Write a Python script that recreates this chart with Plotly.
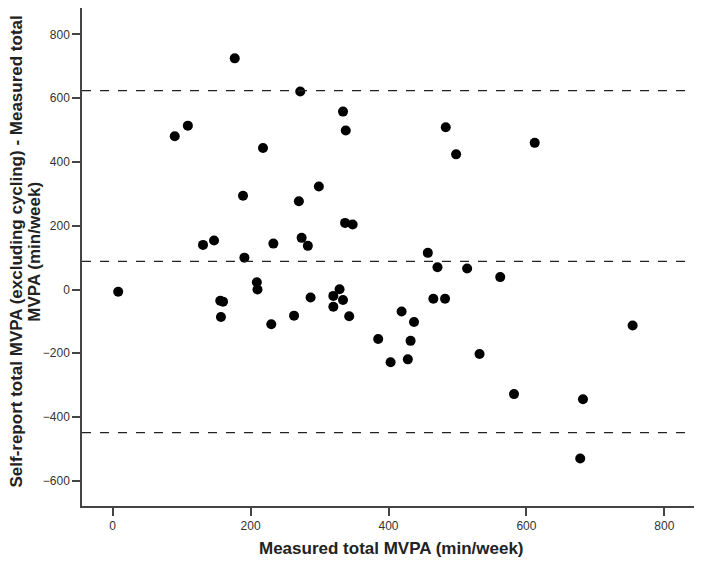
import plotly.graph_objects as go

# mean of the two methods (x) and difference self-report - measured (y)
measured = [177, 272, 90, 109, 218, 334, 338, 299, 189, 270, 337, 348,
            131, 147, 233, 274, 283, 191,
            483, 498, 612, 457, 471, 514, 562,
            8, 156, 160, 157, 209, 210, 230, 263, 287, 320, 320, 329, 334, 343,
            465, 482, 419, 437, 385, 432, 403, 428, 532, 754, 582, 682, 678]
difference = [725, 621, 481, 514, 444, 558, 499, 323, 294, 277, 209, 204,
              140, 154, 144, 162, 137, 100,
              509, 424, 460, 115, 70, 66, 39,
              -7, -35, -38, -86, 23, 0, -109, -82, -25, -20, -54, 1, -33, -84,
              -29, -29, -69, -102, -155, -161, -228, -219, -202, -113, -328, -344, -530]

# mean difference and limits of agreement
ref_lines = [624, 88, -449]

fig = go.Figure()
fig.add_trace(go.Scatter(x=measured, y=difference, mode='markers',
                         marker=dict(color='black', size=10),
                         showlegend=False))

for yv in ref_lines:
    fig.add_shape(type='line', xref='paper', x0=0, x1=1, y0=yv, y1=yv,
                  line=dict(color='#222', width=1.2, dash='dash'))

axis_style = dict(showline=True, linecolor='#444', linewidth=1.5, mirror=True,
                  ticks='outside', ticklen=8, tickcolor='#444', tickwidth=1.5,
                  showgrid=False, zeroline=False, automargin=False,
                  tickfont=dict(family='Liberation Sans, Arial', size=12, color='#333'))

# axis titles as annotations so the margins stay fixed
fig.add_annotation(text='<b>Measured total MVPA (min/week)</b>',
                   xref='paper', yref='paper', x=0.505, y=-0.086,
                   xanchor='center', yanchor='middle', showarrow=False,
                   font=dict(size=17, color='#222'))
fig.add_annotation(text='<b>Self-report total MVPA (excluding cycling) - Measured total</b>',
                   xref='paper', yref='paper', x=-0.107, y=0.51, textangle=-90,
                   xanchor='center', yanchor='middle', showarrow=False, borderpad=0,
                   font=dict(size=17, color='#222'))
fig.add_annotation(text='<b>MVPA (min/week)</b>',
                   xref='paper', yref='paper', x=-0.079, y=0.51, textangle=-90,
                   xanchor='center', yanchor='middle', showarrow=False, borderpad=0,
                   font=dict(size=17, color='#222'))

fig.update_layout(
    width=694, height=557,
    margin=dict(l=74, r=8, t=0, b=59),
    plot_bgcolor='white', paper_bgcolor='white',
    font=dict(family='Liberation Sans, Arial', color='#222'),
    xaxis=dict(range=[-44.5, 843], tickvals=[0, 200, 400, 600, 800], **axis_style),
    yaxis=dict(range=[-679, 883], tickvals=[-600, -400, -200, 0, 200, 400, 600, 800],
               **axis_style),
)

fig.write_html("out.html")
